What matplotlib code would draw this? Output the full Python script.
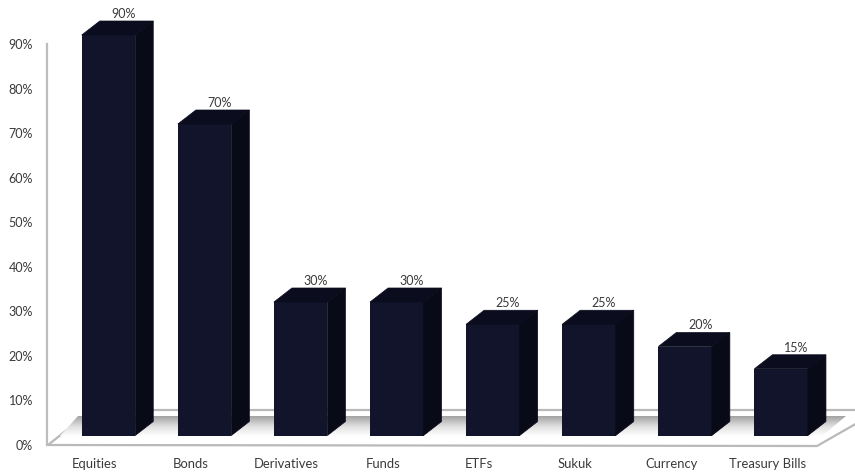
import numpy as np
import matplotlib
matplotlib.use("Agg")
import matplotlib.pyplot as plt
from matplotlib.patches import Polygon
from matplotlib.transforms import ScaledTranslation

categories = ["Equities", "Bonds", "Derivatives", "Funds", "ETFs", "Sukuk", "Currency", "Treasury Bills"]
values = [90, 70, 30, 30, 25, 25, 20, 15]
axis_ticks = [0, 10, 20, 30, 40, 50, 60, 70, 80, 90]

W, H = 855, 474
FONT = ["Lato", "DejaVu Sans"]
TEXT = "#3a3a3a"
FRONT, TOP, SIDE = "#11142a", "#0b0d1f", "#090a17"

fig = plt.figure(figsize=(W / 100, H / 100), dpi=100, facecolor="white")

# floor (pixel-space backdrop)
bg = fig.add_axes([0, 0, 1, 1], zorder=0)
bg.axis("off")
floor = Polygon([(48, 445), (92, 410), (880, 410), (817, 446)], closed=True,
                facecolor="white", edgecolor="#b9b9b9", lw=1.6)
bg.add_patch(floor)
grad = np.linspace(0, 1, 64).reshape(-1, 1)
band = bg.imshow(grad, extent=(40, 860, 436, 416), cmap=matplotlib.colors.LinearSegmentedColormap.from_list(
    "s", ["#a2a2a2", "#dedede", "#ffffff"]), aspect="auto", zorder=2)
bg.set_xlim(0, W); bg.set_ylim(H, 0)
band.set_clip_path(Polygon([(60, 436), (78, 416), (846, 416), (822, 436)], closed=True, transform=bg.transData))

# value axis
ay = fig.add_axes([47 / W, 1 - 445 / H, 0.02, (445 - 44) / H], zorder=1)
ay.patch.set_alpha(0)
ay.set_ylim(0, 90)
ay.set_yticks(axis_ticks)
ay.set_yticklabels([f"{t}%" for t in axis_ticks], family=FONT, fontsize=9, color=TEXT)
ay.tick_params(axis="y", length=0, pad=10)
ay.set_xticks([])
for s in ["top", "right", "bottom"]:
    ay.spines[s].set_visible(False)
ay.spines["left"].set_color("#bdbdbd")
ay.spines["left"].set_linewidth(1.6)

# bars: 96.1 px per category, 4.45 px per percent, baseline at y=435.5
PX, PY, X0, Y0 = 96.1, 4.45, 108.5, 435.5
ax = fig.add_axes([0, 1 - Y0 / H, 1, Y0 / H], zorder=2)
ax.patch.set_alpha(0)
ax.set_xlim(-X0 / PX, (W - X0) / PX)
ax.set_ylim(0, Y0 / PY)
for s in ax.spines.values():
    s.set_visible(False)
ax.set_yticks([])
pos = np.arange(len(categories))
bw = 53.5 / PX
dx, dy = 18 / PX, 14 / PY
ax.bar(pos, values, width=bw, color=FRONT, zorder=3)
for x, v in zip(pos, values):
    l, r = x - bw / 2, x + bw / 2
    ax.fill([l, l + dx, r + dx, r], [v, v + dy, v + dy, v], color=TOP, lw=0.5, zorder=3)
    ax.fill([r, r + dx, r + dx, r], [0, dy, v + dy, v], color=SIDE, lw=0.5, zorder=3)
    ax.text(x + 15 / PX, v + dy + 1.6, f"{v}%", ha="center", va="center",
            family=FONT, fontsize=9, color=TEXT)
ax.set_xticks(pos)
ax.set_xticklabels(categories, family=FONT, fontsize=9.4, color=TEXT)
ax.tick_params(axis="x", length=0, pad=16.2)
shift = ScaledTranslation(-14 / 100, 0, fig.dpi_scale_trans)
for lab in ax.get_xticklabels():
    lab.set_transform(lab.get_transform() + shift)

fig.savefig("out.png", dpi=100, facecolor="white")
